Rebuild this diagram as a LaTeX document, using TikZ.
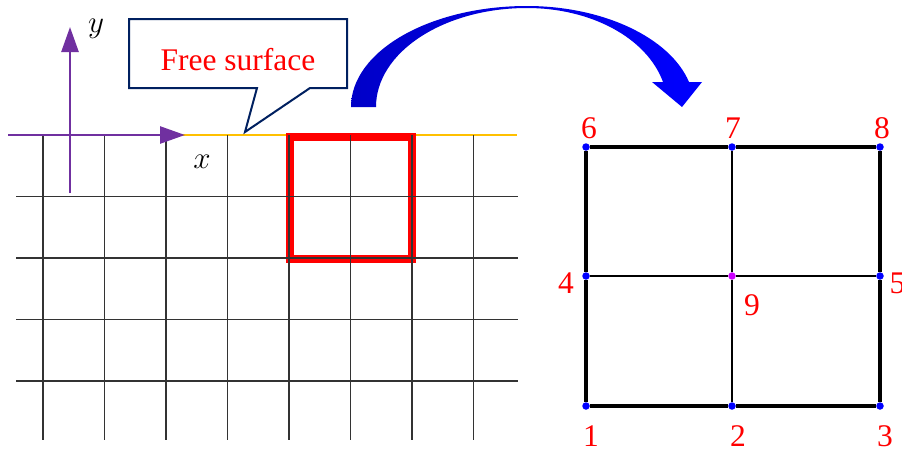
\documentclass[tikz,border=0pt]{standalone}
\usepackage{fontspec}
\setmainfont{Liberation Serif}
\usetikzlibrary{arrows.meta,positioning}
\definecolor{navy}{HTML}{002060}
\definecolor{axispurple}{HTML}{7030A0}
\definecolor{surforange}{HTML}{FFC000}
\definecolor{arrowdark}{HTML}{0000C8}
\definecolor{arrowlight}{HTML}{0000FF}
\definecolor{midpink}{HTML}{CC00FF}
\newcommand{\meshpt}[4]{\node[meshdot,fill=#4] (#1) at (#2,#3){};}
\tikzset{gridline/.style={black!80,line width=1.4pt},
  meshdot/.style={circle,inner sep=0pt,minimum size=7.5pt},
  numlab/.style={red,inner sep=0pt},
  axis/.style={axispurple,line width=2.6pt,-{Triangle[length=25pt,width=17pt]}}}

\begin{document}
\begin{tikzpicture}[x=1pt,y=-1pt,font=\fontsize{31.5}{36}\selectfont]
\useasboundingbox (0,0) rectangle (902,453);
% mesh of the fluid domain
\draw[surforange,line width=2pt] (17,135)--(517,135);
\draw[red,line width=8pt] (289.5,137) rectangle (412,258.5);
\foreach \i in {0,...,7} \draw[gridline] ({43+61.5*\i},135)--({43+61.5*\i},440);
\foreach \j in {1,...,4} \draw[gridline] (16,{135+61.5*\j})--(518,{135+61.5*\j});
\coordinate (xs) at (8,135);\coordinate (xe) at (185,135);
\coordinate (ys) at (70,193);\coordinate (ye) at (70,27);
\draw[axis] (xs)--(xe);\draw[axis] (ys)--(ye);
\node[scale=1.25] (xlab) at (202,162){$x$};
\node[scale=1.25] (ylab) at (96,29){$y$};
% callout
\draw[navy,line width=2pt,fill=white] (129,19)--(347,19)--(347,88)--(310,88)--(245,132)--(257,88)--(129,88)--cycle;
\node[red] (fs) at (238,60){Free surface};
% curved arrow
\shade[left color=arrowdark,right color=arrowlight] (351,107) .. controls (351,51) and (430,6) .. (527,6)
  .. controls (603,6) and (670,37.5) .. (689,82)--(702,82)--(682,107)--(652,82)--(663,82)
  .. controls (647,38) and (591,8) .. (527,8) .. controls (444,8) and (376,52) .. (376,107)--cycle;
% element with nine nodes
\meshpt{n1}{586}{406}{blue}\meshpt{n2}{732}{406}{blue}\meshpt{n3}{880}{406}{blue}
\meshpt{n4}{586}{276}{blue}\meshpt{n9}{732}{276}{midpink}\meshpt{n5}{880}{276}{blue}
\meshpt{n6}{586}{147}{blue}\meshpt{n7}{732}{147}{blue}\meshpt{n8}{880}{147}{blue}
\draw[line width=3.8pt] (n1)--(n2)--(n3)--(n5)--(n8)--(n7)--(n6)--(n4)--(n1);
\draw[line width=2.2pt] (n4)--(n9)--(n5) (n2)--(n9)--(n7);
\node[numlab] (t1) at (591,436.5){1};\node[numlab] (t2) at (738,436.5){2};\node[numlab] (t3) at (885,436.5){3};
\node[numlab] (t4) at (566,283){4};\node[numlab] (t5) at (897.5,283){5};\node[numlab] (t9) at (752,305){9};
\node[numlab] (t6) at (589,128){6};\node[numlab] (t7) at (733,128){7};\node[numlab] (t8) at (882,128){8};
\end{tikzpicture}
\end{document}
